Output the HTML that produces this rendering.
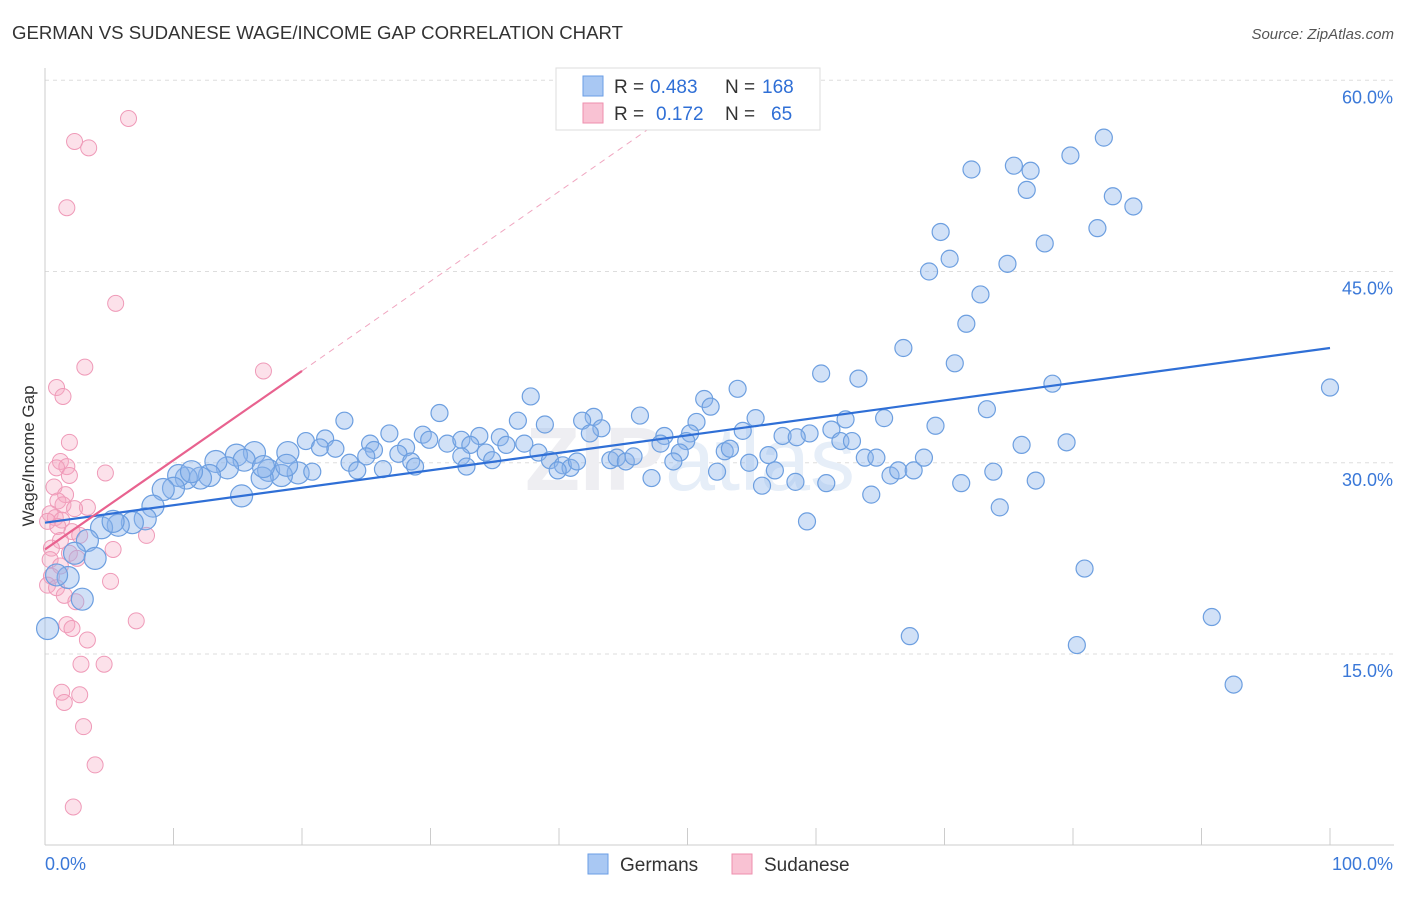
<!DOCTYPE html>
<html><head><meta charset="utf-8"><style>
body{margin:0;background:#fff;font-family:"Liberation Sans",sans-serif;}
svg text{font-family:"Liberation Sans",sans-serif;}
</style></head><body>
<svg id="chart" width="1406" height="892">
<text x="12" y="39" font-size="18.6" fill="#333">GERMAN VS SUDANESE WAGE/INCOME GAP CORRELATION CHART</text>
<text x="1394" y="39" font-size="15" fill="#555" text-anchor="end" font-style="italic">Source: ZipAtlas.com</text>
<text x="34" y="456" font-size="17" fill="#333" text-anchor="middle" transform="rotate(-90 34 456)">Wage/Income Gap</text>
<g id="grid"></g><g id="axes"></g>
<text x="690" y="490" font-size="90" fill="#eeeef2" text-anchor="middle" font-weight="bold">ZIP<tspan fill="#e6eef8" font-weight="normal">atlas</tspan></text>
<g id="pink"></g><g id="blue"></g><g id="lines"></g>
<g>
<rect x="556" y="68" width="264" height="62" fill="#fff" stroke="#ddd"/>
<rect x="583" y="76" width="20" height="20" fill="#a9c8f3" stroke="#6a9ee6"/>
<rect x="583" y="103" width="20" height="20" fill="#f9c2d3" stroke="#ee8fae"/>
<text x="614" y="93" font-size="19" fill="#333">R =</text>
<text x="650" y="93" font-size="19" fill="#2f6fd6">0.483</text>
<text x="725" y="93" font-size="19" fill="#333">N =</text>
<text x="762" y="93" font-size="19" fill="#2f6fd6">168</text>
<text x="614" y="120" font-size="19" fill="#333">R =</text>
<text x="656" y="120" font-size="19" fill="#2f6fd6">0.172</text>
<text x="725" y="120" font-size="19" fill="#333">N =</text>
<text x="771" y="120" font-size="19" fill="#2f6fd6">65</text>
</g>
<g>
<rect x="588" y="854" width="20" height="20" fill="#a9c8f3" stroke="#6a9ee6"/>
<text x="620" y="871" font-size="19" fill="#333">Germans</text>
<rect x="732" y="854" width="20" height="20" fill="#f9c2d3" stroke="#ee8fae"/>
<text x="764" y="871" font-size="19" fill="#333">Sudanese</text>
</g>
</svg>
<script>
const yTicks=[15,30,45,60];
const yTickLabels=["15.0%","30.0%","45.0%","60.0%"];
const xTickLabels=["0.0%","100.0%"];
const blueX=[82.4,79.8,75.4,72.1,76.7,76.4,83.1,84.7,81.9,69.7,77.8,70.4,74.9,68.8,72.8,71.7,66.8,70.8,60.4,63.3,78.4,100,53.9,37.8,51.3,51.8,73.3,30.7,46.3,42.7,23.3,36.8,55.3,65.3,62.3,41.8,50.7,38.9,43.3,69.3,54.3,61.2,59.5,57.4,58.5,61.9,62.8,48.2,50.2,47.9,49.9,42.4,29.4,29.9,31.3,26.8,28.1,25.3,25.6,20.3,21.8,21.4,22.6,35.4,33.8,32.4,33.1,35.9,37.3,76.0,79.5,34.3,38.4,18.9,32.4,25.0,27.5,28.5,23.7,24.3,26.3,28.8,32.8,34.8,39.3,40.3,40.9,41.4,39.9,44.0,44.5,45.2,45.8,49.4,48.9,47.2,52.9,53.3,54.8,56.3,56.8,52.3,55.8,58.4,60.8,63.8,64.7,65.8,66.4,67.6,68.4,64.3,71.3,73.8,77.1,74.3,59.3,80.9,67.3,80.3,90.8,92.5,19.7,20.8,17.4,18.4,16.9,16.3,14.9,15.5,14.2,13.3,12.8,12.1,11.0,10.4,11.4,10.0,9.2,15.3,8.4,7.8,6.8,5.7,4.4,5.3,3.3,2.3,3.9,1.8,0.9,2.9,0.2,17.0,18.8];
const blueY=[55.5,54.1,53.3,53.0,52.9,51.4,50.9,50.1,48.4,48.1,47.2,46.0,45.6,45.0,43.2,40.9,39.0,37.8,37.0,36.6,36.2,35.9,35.8,35.2,35.0,34.4,34.2,33.9,33.7,33.6,33.3,33.3,33.5,33.5,33.4,33.3,33.2,33.0,32.7,32.9,32.5,32.6,32.3,32.1,32.0,31.7,31.7,32.1,32.3,31.5,31.7,32.3,32.2,31.8,31.5,32.3,31.2,31.5,31.0,31.7,31.9,31.2,31.1,32.0,32.1,31.8,31.4,31.4,31.5,31.4,31.6,30.8,30.8,30.8,30.5,30.5,30.7,30.1,30.0,29.4,29.5,29.7,29.7,30.2,30.2,29.8,29.6,30.1,29.4,30.2,30.4,30.1,30.5,30.8,30.1,28.8,30.9,31.1,30.0,30.6,29.4,29.3,28.2,28.5,28.4,30.4,30.4,29.0,29.4,29.4,30.4,27.5,28.4,29.3,28.6,26.5,25.4,21.7,16.4,15.7,17.9,12.6,29.2,29.3,29.4,29.0,28.8,30.8,30.6,30.2,29.6,30.1,29.0,28.8,28.8,29.0,29.3,28.0,27.9,27.4,26.6,25.6,25.3,25.1,24.9,25.4,23.9,22.9,22.5,21.0,21.2,19.3,17.0,29.7,29.8];
const pinkX=[6.5,2.3,3.4,1.7,5.5,3.1,17.0,0.9,1.4,1.9,1.2,1.7,0.9,1.9,4.7,0.7,1.6,1.0,1.4,3.3,2.3,0.4,0.8,1.3,0.2,1.0,2.1,2.7,7.9,1.2,0.5,5.3,1.9,2.5,0.4,1.2,0.5,5.1,0.2,0.9,1.5,2.4,7.1,1.7,2.1,3.3,2.8,4.6,1.3,2.7,1.5,3.0,3.9,2.2];
const pinkY=[57.0,55.2,54.7,50.0,42.5,37.5,37.2,35.9,35.2,31.6,30.1,29.7,29.6,29.0,29.2,28.1,27.5,27.0,26.7,26.5,26.4,26.0,25.7,25.5,25.4,25.0,24.6,24.3,24.3,23.9,23.3,23.2,22.9,22.5,22.4,21.9,21.1,20.7,20.4,20.2,19.6,19.1,17.6,17.3,17.0,16.1,14.2,14.2,12.0,11.8,11.2,9.3,6.3,3.0];
const blueTrend=[[0,25.3],[100,39.0]];
const pinkTrend=[[0,23.2],[20,37.2]];
const pinkTrendExt=[[20,37.2],[47,56.2]];
const NS="http://www.w3.org/2000/svg";
const sx=v=>45+v*12.85, sy=v=>654-(v-15)*12.75;
function mk(t,a,p){const e=document.createElementNS(NS,t);for(const k in a)e.setAttribute(k,a[k]);p.appendChild(e);return e;}
const grid=document.getElementById('grid'),axes=document.getElementById('axes');
yTicks.forEach((t,i)=>{
 const l=mk('line',{x1:45,x2:1394,y1:sy(t),y2:sy(t),stroke:'#ddd','stroke-dasharray':'4,4'},grid);
 
 
 const tx=mk('text',{x:1393,y:sy(t)+23,'font-size':18,fill:'#3a78d8','text-anchor':'end'},axes);
 tx.textContent=yTickLabels[i];
 
 
});
mk('line',{x1:45,x2:45,y1:68,y2:845,stroke:'#ccc'},axes);
mk('line',{x1:45,x2:1394,y1:845,y2:845,stroke:'#ccc'},axes);
for(let i=0;i<=10;i++){mk('line',{x1:sx(i*10),x2:sx(i*10),y1:828,y2:845,stroke:'#ccc'},axes);}
[[0,'start',45],[1,'end',1393]].forEach(([i,a,x])=>{const t=mk('text',{x:x,y:870,'font-size':18,fill:'#3a78d8','text-anchor':a},axes);t.textContent=xTickLabels[i];
 
 });
const pg=document.getElementById('pink'),bg=document.getElementById('blue');
pinkX.forEach((x,i)=>{const c=mk('circle',{cx:sx(x),cy:sy(pinkY[i]),r:8,fill:'rgba(247,170,195,0.35)',stroke:'#ef9ab8','stroke-width':1},pg);
 
 });
blueX.forEach((x,i)=>{const r=x<20?11:8.5;const c=mk('circle',{cx:sx(x),cy:sy(blueY[i]),r:r,fill:'rgba(140,180,235,0.4)',stroke:'#6d9fe0','stroke-width':1.2},bg);
 
 });
const lg=document.getElementById('lines');
const bl=mk('line',{x1:sx(blueTrend[0][0]),y1:sy(blueTrend[0][1]),x2:sx(blueTrend[1][0]),y2:sy(blueTrend[1][1]),stroke:'#2f6fd6','stroke-width':2.2},lg);


const pl=mk('line',{x1:sx(pinkTrend[0][0]),y1:sy(pinkTrend[0][1]),x2:sx(pinkTrend[1][0]),y2:sy(pinkTrend[1][1]),stroke:'#e8628f','stroke-width':2.2},lg);


const pd=mk('line',{x1:sx(pinkTrendExt[0][0]),y1:sy(pinkTrendExt[0][1]),x2:sx(pinkTrendExt[1][0]),y2:sy(pinkTrendExt[1][1]),stroke:'#f0a6c0','stroke-width':1,'stroke-dasharray':'6,5'},lg);


</script>
</body></html>
